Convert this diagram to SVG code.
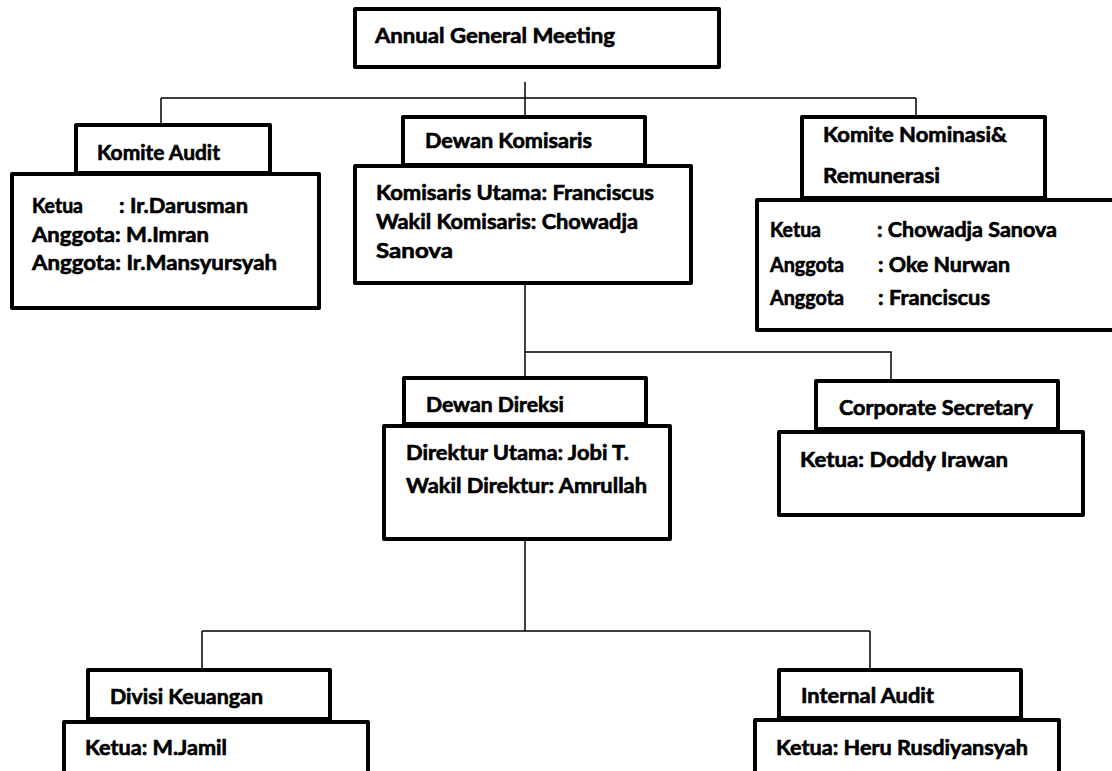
<svg xmlns="http://www.w3.org/2000/svg" width="1112" height="771" viewBox="0 0 1112 771">
  <style>
    .box { fill: #ffffff; stroke: #000000; stroke-width: 4; stroke-linejoin: round; }
    .wire { fill: none; stroke: #000000; stroke-width: 1.5; }
    text { font-family: Lato, "Open Sans", "Liberation Sans", sans-serif; font-weight: 700; font-size: 20px; fill: #000000; stroke: #000000; stroke-width: 0.6; }
  </style>
  <rect width="1112" height="771" fill="#ffffff"/>

  <!-- connectors -->
  <g id="connectors">
    <path class="wire" d="M525 82 V117 M161 98 H916 M161 98 V125 M916 98 V117"/>
    <path class="wire" d="M525 285 V378 M525 352 H891 V381"/>
    <path class="wire" d="M525 541 V631 M202 631 H870 M202 631 V670 M870 631 V670"/>
  </g>

  <g id="agm">
    <rect class="box" x="355" y="9" width="364" height="58"/>
    <text x="375" y="43" textLength="240" lengthAdjust="spacingAndGlyphs">Annual General Meeting</text>
  </g>

  <g id="komite-audit">
    <rect class="box" x="12" y="174" width="307" height="134"/>
    <rect class="box" x="76" y="125" width="194" height="48"/>
    <text x="97" y="160" textLength="123" lengthAdjust="spacingAndGlyphs">Komite Audit</text>
    <text x="32" y="213" textLength="51" lengthAdjust="spacingAndGlyphs">Ketua</text>
    <text x="119" y="213" textLength="129" lengthAdjust="spacingAndGlyphs">: Ir.Darusman</text>
    <text x="32" y="242" textLength="177" lengthAdjust="spacingAndGlyphs">Anggota: M.Imran</text>
    <text x="32" y="270" textLength="245" lengthAdjust="spacingAndGlyphs">Anggota: Ir.Mansyursyah</text>
  </g>

  <g id="dewan-komisaris">
    <rect class="box" x="355" y="166" width="336" height="117"/>
    <rect class="box" x="403" y="117" width="242" height="48"/>
    <text x="425" y="148" textLength="167" lengthAdjust="spacingAndGlyphs">Dewan Komisaris</text>
    <text x="376" y="200" textLength="278" lengthAdjust="spacingAndGlyphs">Komisaris Utama: Franciscus</text>
    <text x="376" y="229" textLength="262" lengthAdjust="spacingAndGlyphs">Wakil Komisaris: Chowadja</text>
    <text x="376" y="258" textLength="77" lengthAdjust="spacingAndGlyphs">Sanova</text>
  </g>

  <g id="komite-nominasi">
    <rect class="box" x="757" y="200" width="370" height="130"/>
    <rect class="box" x="802" y="117" width="243" height="81"/>
    <text x="823" y="142" textLength="184" lengthAdjust="spacingAndGlyphs">Komite Nominasi&amp;</text>
    <text x="823" y="183" textLength="117" lengthAdjust="spacingAndGlyphs">Remunerasi</text>
    <text x="770" y="237" textLength="51" lengthAdjust="spacingAndGlyphs">Ketua</text>
    <text x="877" y="237" textLength="180" lengthAdjust="spacingAndGlyphs">: Chowadja Sanova</text>
    <text x="770" y="272" textLength="74" lengthAdjust="spacingAndGlyphs">Anggota</text>
    <text x="878" y="272" textLength="132" lengthAdjust="spacingAndGlyphs">: Oke Nurwan</text>
    <text x="770" y="305" textLength="74" lengthAdjust="spacingAndGlyphs">Anggota</text>
    <text x="878" y="305" textLength="112" lengthAdjust="spacingAndGlyphs">: Franciscus</text>
  </g>

  <g id="dewan-direksi">
    <rect class="box" x="384" y="426" width="286" height="113"/>
    <rect class="box" x="404" y="378" width="242" height="46"/>
    <text x="426" y="412" textLength="138" lengthAdjust="spacingAndGlyphs">Dewan Direksi</text>
    <text x="406" y="460" textLength="223" lengthAdjust="spacingAndGlyphs">Direktur Utama: Jobi T.</text>
    <text x="406" y="493" textLength="241" lengthAdjust="spacingAndGlyphs">Wakil Direktur: Amrullah</text>
  </g>

  <g id="corporate-secretary">
    <rect class="box" x="779" y="432" width="304" height="83"/>
    <rect class="box" x="816" y="381" width="242" height="48"/>
    <text x="839" y="415" textLength="194" lengthAdjust="spacingAndGlyphs">Corporate Secretary</text>
    <text x="800" y="467" textLength="208" lengthAdjust="spacingAndGlyphs">Ketua: Doddy Irawan</text>
  </g>

  <g id="divisi-keuangan">
    <rect class="box" x="64" y="722" width="304" height="80"/>
    <rect class="box" x="88" y="670" width="242" height="49"/>
    <text x="110" y="704" textLength="153" lengthAdjust="spacingAndGlyphs">Divisi Keuangan</text>
    <text x="85" y="755" textLength="142" lengthAdjust="spacingAndGlyphs">Ketua: M.Jamil</text>
  </g>

  <g id="internal-audit">
    <rect class="box" x="755" y="720" width="304" height="80"/>
    <rect class="box" x="779" y="670" width="242" height="48"/>
    <text x="801" y="703" textLength="133" lengthAdjust="spacingAndGlyphs">Internal Audit</text>
    <text x="776" y="755" textLength="252" lengthAdjust="spacingAndGlyphs">Ketua: Heru Rusdiyansyah</text>
  </g>
</svg>
